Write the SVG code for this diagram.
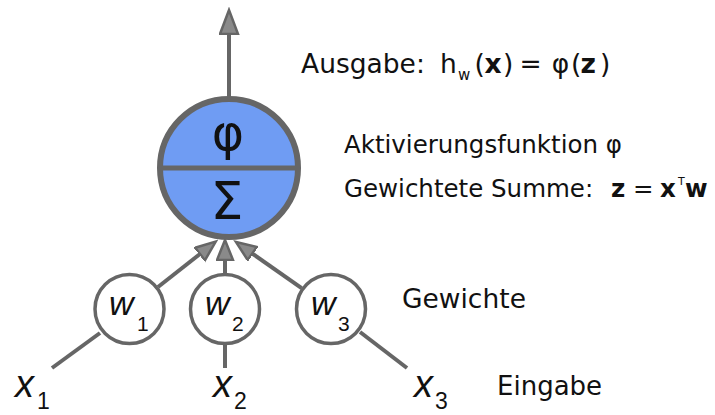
<svg xmlns="http://www.w3.org/2000/svg" width="715" height="415" viewBox="0 0 715 415">
  <style>
    .wire { stroke: #666; stroke-width: 4; fill: none; }
    .weight { fill: #fff; stroke: #666; stroke-width: 3.5; }
    .var { font-family: "Liberation Sans", Arial, sans-serif; font-style: italic; fill: #111; }
    .sub { font-family: "Liberation Sans", Arial, sans-serif; font-style: normal; fill: #111; }
    .lbl { font-family: "DejaVu Sans", Verdana, sans-serif; fill: #111; }
    .b { font-weight: bold; }
  </style>
  <defs>
    <marker id="headIn" markerUnits="userSpaceOnUse" markerWidth="24" markerHeight="20" refX="1" refY="9" orient="auto">
      <path d="M1,1 L21,9 L1,17 Z" fill="#8a8a8a" stroke="#666" stroke-width="2.5" stroke-linejoin="miter"/>
    </marker>
    <marker id="headOut" markerUnits="userSpaceOnUse" markerWidth="28" markerHeight="22" refX="1" refY="10" orient="auto">
      <path d="M1,1 L25,10 L1,19 Z" fill="#8a8a8a" stroke="#666" stroke-width="2.5" stroke-linejoin="miter"/>
    </marker>
  </defs>

  <rect width="715" height="415" fill="#fff"/>

  <!-- connectors -->
  <g id="connectors">
    <line class="wire" x1="229" y1="97" x2="229" y2="34" marker-end="url(#headOut)"/>
    <line class="wire" x1="158" y1="287" x2="200" y2="254" marker-end="url(#headIn)"/>
    <line class="wire" x1="225" y1="273" x2="225" y2="260" marker-end="url(#headIn)"/>
    <line class="wire" x1="301.6" y1="288.2" x2="252.3" y2="253.5" marker-end="url(#headIn)"/>
    <line class="wire" x1="52" y1="368" x2="100" y2="333"/>
    <line class="wire" x1="225" y1="345" x2="225" y2="368"/>
    <line class="wire" x1="360" y1="332" x2="407" y2="368"/>
  </g>

  <!-- neuron: activation over weighted sum -->
  <g id="neuron">
    <circle cx="229" cy="168" r="69" fill="#6f9cf3" stroke="#666" stroke-width="6"/>
    <line x1="160" y1="168" x2="298" y2="168" stroke="#666" stroke-width="5"/>
    <text class="lbl" x="228" y="150" font-size="49" text-anchor="middle">φ</text>
    <text class="lbl" x="227" y="219" font-size="52" text-anchor="middle">Σ</text>
  </g>

  <!-- weights -->
  <g id="w1">
    <circle class="weight" cx="129.5" cy="309" r="34.5"/>
    <text class="var" x="109" y="315" font-size="34">w<tspan class="sub" x="137" y="331" font-size="21">1</tspan></text>
  </g>
  <g id="w2">
    <circle class="weight" cx="225" cy="309" r="34.5"/>
    <text class="var" x="205" y="315" font-size="34">w<tspan class="sub" x="232" y="331" font-size="21">2</tspan></text>
  </g>
  <g id="w3">
    <circle class="weight" cx="331" cy="309" r="34.5"/>
    <text class="var" x="311" y="315" font-size="34">w<tspan class="sub" x="338" y="331" font-size="21">3</tspan></text>
  </g>

  <!-- inputs -->
  <g id="x1">
    <text class="var" x="15" y="397" font-size="38">x<tspan class="sub" x="37" y="409" font-size="23">1</tspan></text>
  </g>
  <g id="x2">
    <text class="var" x="213" y="397" font-size="38">x<tspan class="sub" x="234" y="409" font-size="23">2</tspan></text>
  </g>
  <g id="x3">
    <text class="var" x="414" y="397" font-size="38">x<tspan class="sub" x="435" y="409" font-size="23">3</tspan></text>
  </g>

  <!-- labels -->
  <g id="labels">
    <text class="lbl" x="301" y="73" font-size="26.5">Ausgabe:<tspan x="440">h</tspan><tspan x="458" y="80" font-size="15">w</tspan><tspan x="474.6" y="73">(</tspan><tspan class="b" x="484.5">x</tspan><tspan x="503">)</tspan><tspan x="519.4">=</tspan><tspan x="551.7">φ</tspan><tspan x="571">(</tspan><tspan class="b" x="580.5">z</tspan><tspan x="600">)</tspan></text>
    <text class="lbl" x="344" y="153" font-size="24.5">Aktivierungsfunktion φ</text>
    <text class="lbl" x="344" y="197" font-size="24.5">Gewichtete Summe:<tspan class="b" x="611">z</tspan><tspan x="633">=</tspan><tspan class="b" x="660">x</tspan><tspan x="678" y="185" font-size="11">T</tspan><tspan class="b" x="685" y="197">w</tspan></text>
    <text class="lbl" x="402" y="308" font-size="26.5">Gewichte</text>
    <text class="lbl" x="497" y="395" font-size="26">Eingabe</text>
  </g>
</svg>
